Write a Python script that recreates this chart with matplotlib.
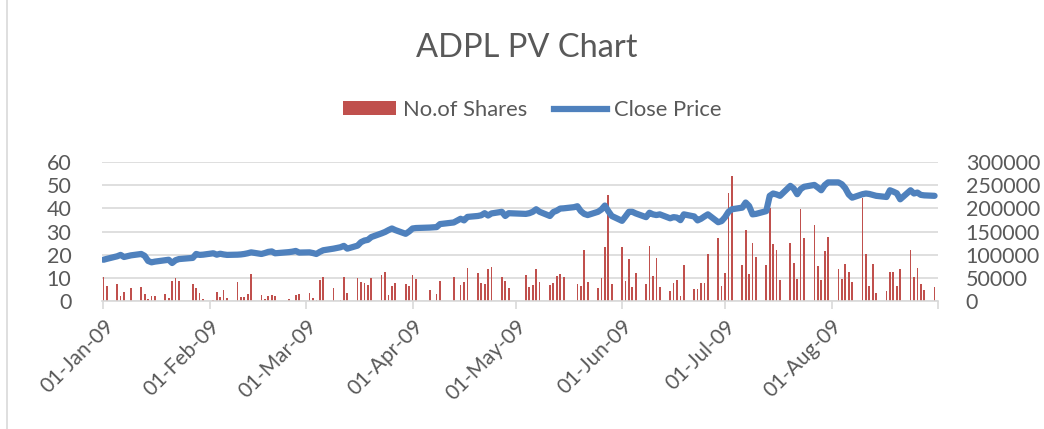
import matplotlib
matplotlib.use("Agg")
import matplotlib.pyplot as plt
import pandas as pd
from matplotlib.patches import Patch
from matplotlib.lines import Line2D

plt.rcParams['font.family'] = ['Lato', 'DejaVu Sans']

# ---- data -------------------------------------------------------------
holidays = ['2009-01-08', '2009-01-26', '2009-02-23', '2009-03-10', '2009-04-03',
            '2009-04-07', '2009-04-10', '2009-04-14', '2009-04-30', '2009-05-01']
trade_dates = [d for d in pd.bdate_range('2009-01-01', '2009-08-31')
               if d.strftime('%Y-%m-%d') not in holidays]

shares = [
    # Jan
    51500, 32600, 36000, 11000, 19000, 29000, 30500, 15000, 4000, 10000,
    10000, 14500, 6000, 43000, 49000, 44000, 37000, 27000, 16700, 3500,
    # Feb
    1500, 19500, 8000, 24000, 6500, 40000, 8700, 8700, 15000, 59000,
    12300, 4300, 11500, 12300, 10800, 3600, 1000, 12300, 16000,
    # Mar
    17400, 7200, 1200, 45600, 51500, 27600, 1500, 51500, 17400, 50000,
    42000, 39800, 35500, 50000, 56000, 63000, 13000, 32000, 38500, 36000, 33000,
    # Apr
    56500, 48000, 24600, 14600, 43500, 52000, 35000, 41000, 71000, 61500,
    38500, 37600, 68000, 72400, 51500, 42800, 27600,
    # May
    56500, 31000, 34000, 68000, 42000, 34000, 38500, 53000, 58700, 51500,
    500, 37000, 33000, 110000, 41000, 27600, 49000, 116000, 229000, 37000,
    # Jun
    117000, 43500, 90500, 30500, 60000, 37000, 119000, 54000, 93000, 31000,
    21000, 39000, 45000, 11000, 76700, 26000, 26000, 39000, 39000, 102000,
    136000, 32600,
    # Jul
    61000, 234000, 270000, 78000, 154000, 58000, 126000, 96000, 76700, 200000,
    124000, 109000, 45600, 126000, 81000, 47000, 198000, 135000, 163000, 74600,
    45600, 108000, 138500,
    # Aug
    69600, 47000, 79000, 62000, 42000, 223000, 102000, 32000, 80000, 18000,
    21000, 63000, 63000, 32000, 69600, 111000, 51500, 71000, 36300, 23000, 30500,
]

close_price = [
    # Jan
    17.8, 18.2, 19.3, 19.9, 19.0, 19.7, 20.3, 19.5, 17.3, 16.7,
    17.0, 17.6, 17.8, 16.4, 17.6, 18.1, 18.6, 20.3, 19.9, 20.0,
    # Feb
    20.6, 20.0, 20.4, 20.1, 19.9, 20.0, 20.1, 20.3, 20.6, 21.0,
    20.3, 20.7, 21.2, 21.4, 20.6, 21.1, 21.3, 21.6, 20.9,
    # Mar
    21.0, 20.7, 20.3, 21.2, 21.9, 22.6, 23.2, 23.8, 22.6, 23.9,
    25.4, 26.1, 26.4, 27.6, 29.2, 29.8, 30.6, 31.3, 30.6, 29.0, 30.0,
    # Apr
    31.3, 31.5, 31.7, 31.9, 33.2, 33.9, 35.5, 34.8, 36.3, 36.7,
    37.0, 37.9, 36.9, 37.8, 38.5, 36.7, 37.9,
    # May
    37.6, 37.9, 38.5, 39.6, 38.5, 36.7, 38.4, 39.0, 39.9, 40.0,
    40.5, 40.9, 38.8, 37.6, 37.1, 38.5, 39.5, 41.2, 38.8, 36.7,
    # Jun
    34.6, 36.5, 38.5, 38.5, 37.8, 36.2, 38.1, 37.4, 37.1, 37.4,
    35.7, 36.2, 36.0, 34.9, 37.4, 36.5, 34.8, 35.5, 36.5, 37.4,
    34.0, 34.5,
    # Jul
    36.2, 38.5, 39.6, 40.3, 42.5, 41.0, 37.4, 37.6, 38.8, 45.4,
    46.4, 46.0, 45.4, 49.7, 48.5, 46.1, 48.3, 49.3, 50.1, 49.0,
    47.8, 50.0, 51.2,
    # Aug
    51.2, 50.4, 48.7, 46.0, 44.6, 46.1, 46.4, 46.2, 45.8, 45.4,
    44.9, 47.8, 47.2, 46.5, 43.9, 47.8, 46.4, 46.8, 45.8, 45.6, 45.4,
]

month_ticks = ['2009-01-01', '2009-02-01', '2009-03-01', '2009-04-01',
               '2009-05-01', '2009-06-01', '2009-07-01', '2009-08-01']
month_labels = ['01-Jan-09', '01-Feb-09', '01-Mar-09', '01-Apr-09',
                '01-May-09', '01-Jun-09', '01-Jul-09', '01-Aug-09']
left_ticks = [0, 10, 20, 30, 40, 50, 60]
right_ticks = [0, 50000, 100000, 150000, 200000, 250000, 300000]

title = 'ADPL PV Chart'
bar_label = 'No.of Shares'
line_label = 'Close Price'

# ---- styling ----------------------------------------------------------
RED = '#C0504D'
BLUE = '#4F81BD'
TXT = '#595959'
GRID = '#D9D9D9'

W, H = 1044, 429
fig = plt.figure(figsize=(W / 100, H / 100), dpi=100)
fig.patch.set_facecolor('white')

ax_l, ax_r, ax_t, ax_b = 102, 938, 162, 301
ax = fig.add_axes([ax_l / W, 1 - ax_b / H, (ax_r - ax_l) / W, (ax_b - ax_t) / H])
ax2 = ax.twinx()

# bars (shares) on the base axes, shown on the right side
ax.bar(pd.to_datetime(trade_dates), shares, width=0.5, color=RED, zorder=2)
ax.set_ylim(0, 300000)
ax.set_yticks(right_ticks)
ax.set_yticklabels([str(v) for v in right_ticks])
ax.yaxis.tick_right()
ax.grid(axis='y', color=GRID, lw=1.2, zorder=0)
ax.set_axisbelow(True)

# line (close price) on the twin axes, shown on the left side
ax2.plot(pd.to_datetime(trade_dates), close_price, color=BLUE, lw=4.5,
         solid_joinstyle='round', solid_capstyle='round', zorder=3)
ax2.set_ylim(0, 60)
ax2.set_yticks(left_ticks)
ax2.set_yticklabels([str(v) for v in left_ticks])
ax2.yaxis.tick_left()

ax.set_xlim(pd.Timestamp('2009-01-01') - pd.Timedelta(hours=10),
            pd.Timestamp('2009-09-01'))
ax.set_xticks(pd.to_datetime(month_ticks))
ax.set_xticklabels(month_labels, rotation=45, ha='right',
                   rotation_mode='anchor')
ax.set_xticks([pd.Timestamp('2009-09-01')], minor=True)

for a in (ax, ax2):
    for s in a.spines.values():
        s.set_visible(False)
ax.spines['bottom'].set_visible(True)
ax.spines['bottom'].set_color(GRID)
ax.spines['bottom'].set_linewidth(1.2)

ax.tick_params(axis='x', which='both', length=6, width=1.2, color=GRID,
               labelsize=15, labelcolor=TXT, pad=5)
ax.tick_params(axis='y', length=0, labelsize=15.5, labelcolor=TXT, pad=20)
ax2.tick_params(axis='y', length=0, labelsize=15.5, labelcolor=TXT, pad=22)

fig.text(527 / W, 1 - 48 / H, title, ha='center', va='center',
         fontsize=23.5, color=TXT)

handles = [Patch(facecolor=RED, edgecolor='none'),
           Line2D([0], [0], color=BLUE, lw=4.5)]
fig.legend(handles, [bar_label, line_label], loc='center',
           bbox_to_anchor=(532 / W, 1 - 110 / H), ncol=2, frameon=False,
           fontsize=15.8, labelcolor=TXT, handlelength=2.45, handleheight=0.6,
           columnspacing=1.2, handletextpad=0.3)

# chart-area border (left edge visible)
fig.add_artist(Line2D([7 / W, 7 / W], [0, 1], transform=fig.transFigure,
                      color=GRID, lw=1.2))

fig.savefig('out.png', dpi=100, facecolor='white')
